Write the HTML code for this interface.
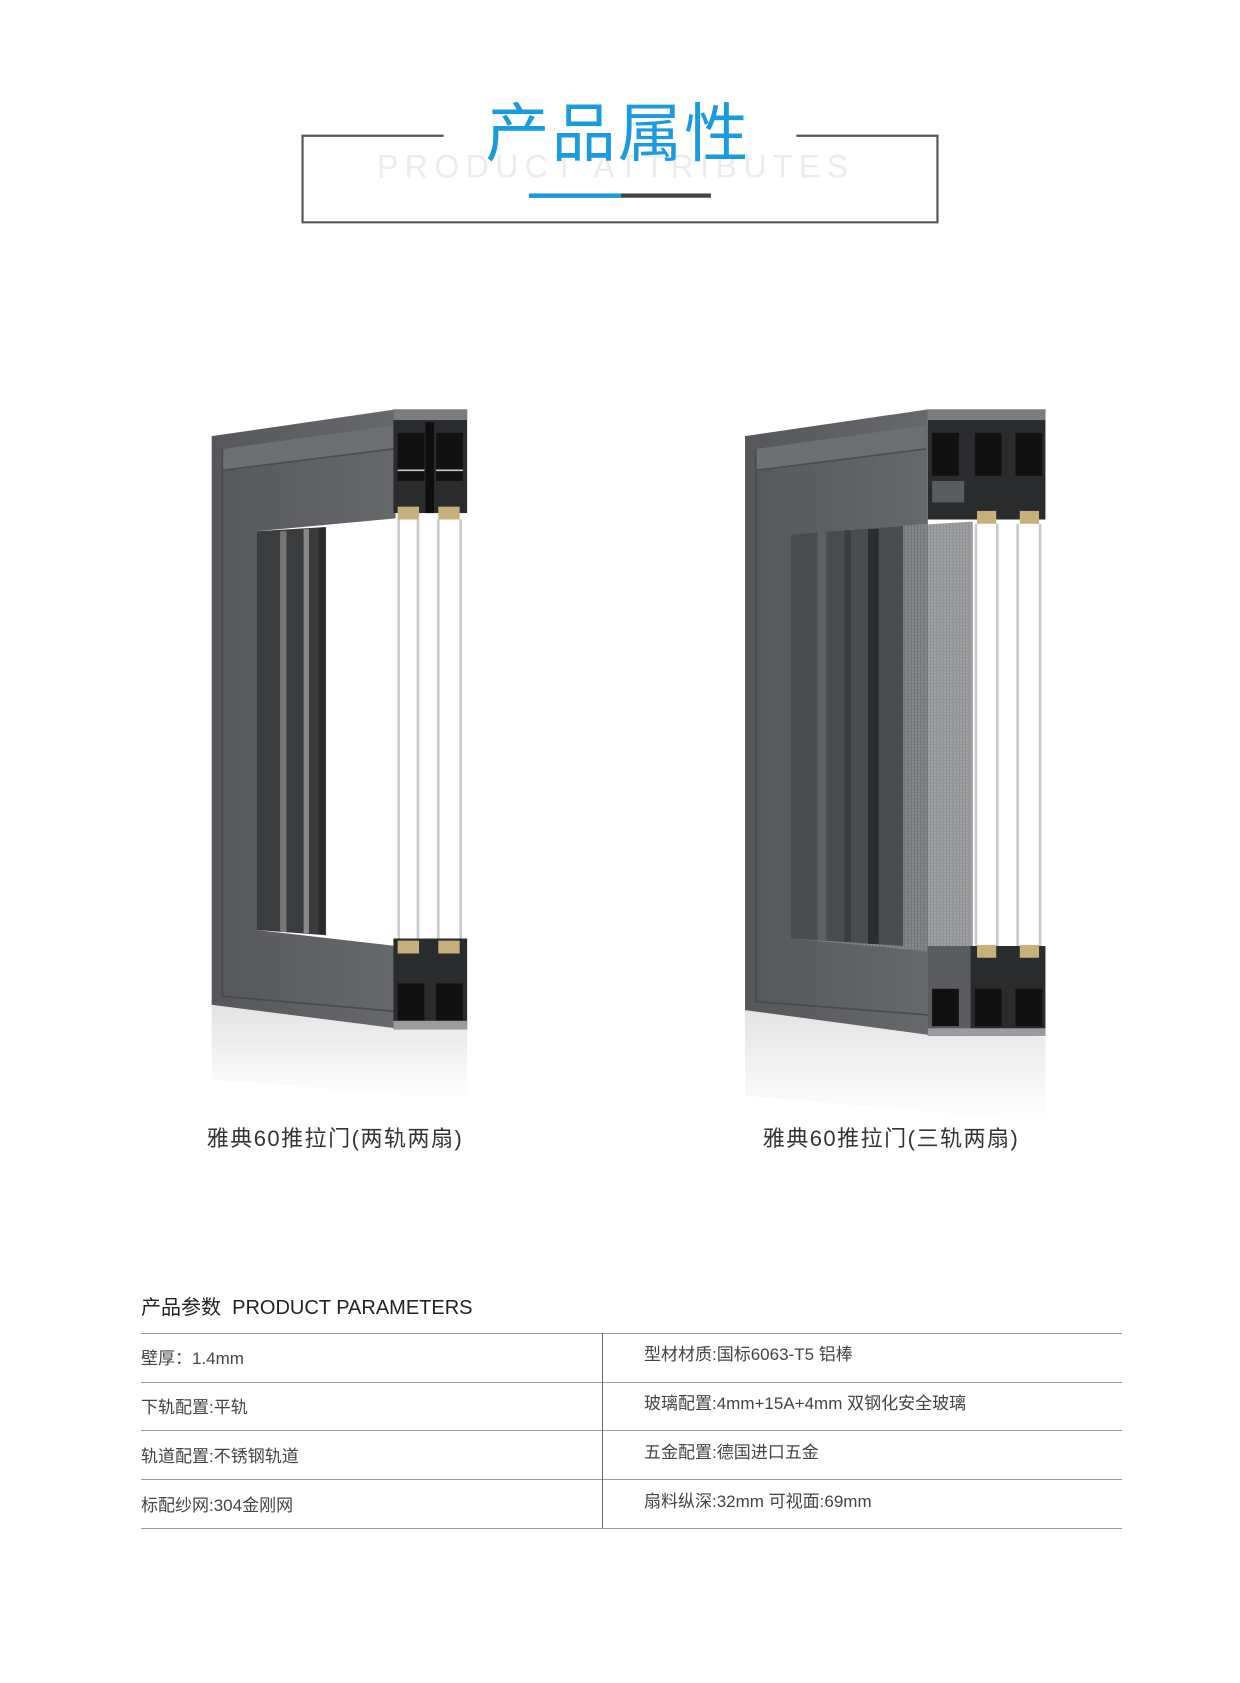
<!DOCTYPE html>
<html><head><meta charset="utf-8"><style>
html,body{margin:0;padding:0;background:#fff;}
body{width:1240px;height:1683px;position:relative;overflow:hidden;font-family:"Liberation Sans","Noto Sans CJK SC",sans-serif;}
.abs{position:absolute;}
.t{font-size:17px;color:#444;line-height:20px;position:absolute;}
</style></head><body>
<svg class="abs" style="left:0;top:0" width="1240" height="1683" viewBox="0 0 1160 1574.5">
<defs>
<linearGradient id="refl" x1="0" y1="0" x2="0" y2="1"><stop offset="0" stop-color="#d8d8d8"/><stop offset="1" stop-color="#fff"/></linearGradient>
<linearGradient id="face" x1="0" y1="0" x2="1" y2="0"><stop offset="0" stop-color="#55575a"/><stop offset="1" stop-color="#66686b"/></linearGradient>
<pattern id="mesh" width="3" height="3" patternUnits="userSpaceOnUse"><rect width="3" height="3" fill="#8a8c8f"/><rect width="1" height="3" fill="#6b6d70"/><rect width="3" height="1" fill="#77797c"/></pattern>
</defs>
<path d="M415 127 H283 V208 H877 V127 H745" fill="none" stroke="#555" stroke-width="2"/>
<text x="576" y="166" text-anchor="middle" font-family="Liberation Sans" font-size="30" letter-spacing="6" fill="#ececec">PRODUCT ATTRIBUTES</text>
<text x="578" y="146" text-anchor="middle" font-family="Noto Sans CJK SC" font-size="60" fill="#1a9be0" letter-spacing="2">产品属性</text>
<rect x="495" y="181" width="170" height="4" fill="#444"/>
<rect x="495" y="181" width="86" height="4" fill="#1a9be0"/>

<g>
<polygon points="198,940 437,962 437,1030 198,1010" fill="url(#refl)" opacity="0.7"/>
<polygon points="198,408 370,383 370,962 198,940" fill="url(#face)"/>
<polygon points="208,420 368,398 368,420 208,440" fill="#6d6f72"/>
<line x1="208" y1="440" x2="368" y2="420" stroke="#4a4c4e" stroke-width="1.5"/>
<line x1="208" y1="420" x2="208" y2="932" stroke="#47494b" stroke-width="1.5"/>
<line x1="208" y1="932" x2="437" y2="952" stroke="#47494b" stroke-width="1.5"/>
<polygon points="240,497 370,485 370,885 240,870" fill="#fff"/>
<polygon points="240,497 305,493 305,875 240,870" fill="#3a3c3e"/>
<rect x="262" y="497" width="6" height="375" fill="#777"/>
<rect x="284" y="495" width="5" height="378" fill="#8a8a8a"/>
<rect x="298" y="494" width="6" height="380" fill="#2a2a2a"/>
<rect x="368" y="383" width="69" height="97" fill="#2a2b2d"/>
<rect x="368" y="383" width="69" height="10" fill="#7a7c7f"/>
<rect x="372" y="405" width="25" height="45" fill="#111"/>
<rect x="408" y="405" width="25" height="45" fill="#111"/>
<rect x="398" y="395" width="8" height="85" fill="#0e0e0e"/>
<path d="M372 440 h25 M408 440 h25" stroke="#ccc" stroke-width="1.5"/>
<rect x="372" y="474" width="20" height="12" fill="#c8b07a"/>
<rect x="410" y="474" width="20" height="12" fill="#c8b07a"/>
<g stroke="#c9cbcd" stroke-width="2.5">
<line x1="373" y1="486" x2="373" y2="880"/><line x1="391" y1="486" x2="391" y2="880"/>
<line x1="410" y1="486" x2="410" y2="880"/><line x1="431" y1="486" x2="431" y2="880"/>
</g>
<rect x="368" y="878" width="69" height="85" fill="#2a2b2d"/>
<rect x="372" y="880" width="20" height="12" fill="#c8b07a"/>
<rect x="410" y="880" width="20" height="12" fill="#c8b07a"/>
<rect x="372" y="920" width="25" height="35" fill="#111"/>
<rect x="408" y="920" width="25" height="35" fill="#111"/>
<rect x="368" y="955" width="69" height="8" fill="#9a9c9f"/>
</g>

<g>
<polygon points="697,945 978,970 978,1050 697,1025" fill="url(#refl)" opacity="0.7"/>
<polygon points="697,408 868,383 868,968 697,945" fill="url(#face)"/>
<polygon points="707,420 866,398 866,420 707,440" fill="#6d6f72"/>
<line x1="707" y1="440" x2="866" y2="420" stroke="#4a4c4e" stroke-width="1.5"/>
<line x1="707" y1="420" x2="707" y2="937" stroke="#47494b" stroke-width="1.5"/>
<line x1="707" y1="937" x2="978" y2="958" stroke="#47494b" stroke-width="1.5"/>
<polygon points="740,500 868,490 868,890 740,878" fill="url(#mesh)"/>
<polygon points="740,500 845,492 845,885 740,878" fill="#4a4c4f"/>
<rect x="765" y="498" width="8" height="382" fill="#5e6063"/>
<rect x="790" y="496" width="6" height="385" fill="#3a3c3e"/>
<rect x="812" y="495" width="10" height="388" fill="#2c2d2f"/>
<polygon points="845,492 910,488 910,888 845,885" fill="url(#mesh)" opacity="0.8"/>
<rect x="868" y="383" width="110" height="103" fill="#2a2b2d"/>
<rect x="868" y="383" width="110" height="10" fill="#7a7c7f"/>
<rect x="872" y="405" width="25" height="40" fill="#111"/>
<rect x="912" y="405" width="25" height="40" fill="#111"/>
<rect x="950" y="405" width="25" height="40" fill="#111"/>
<rect x="872" y="450" width="30" height="20" fill="#5a5c5f"/>
<rect x="914" y="478" width="18" height="12" fill="#c8b07a"/>
<rect x="954" y="478" width="18" height="12" fill="#c8b07a"/>
<g stroke="#c9cbcd" stroke-width="2.5">
<line x1="913" y1="490" x2="913" y2="885"/><line x1="933" y1="490" x2="933" y2="885"/>
<line x1="952" y1="490" x2="952" y2="885"/><line x1="973" y1="490" x2="973" y2="885"/>
</g>
<rect x="868" y="885" width="110" height="84" fill="#2a2b2d"/>
<rect x="868" y="885" width="40" height="84" fill="#5a5c5f"/>
<rect x="914" y="884" width="18" height="12" fill="#c8b07a"/>
<rect x="954" y="884" width="18" height="12" fill="#c8b07a"/>
<rect x="872" y="925" width="25" height="35" fill="#111"/>
<rect x="912" y="925" width="25" height="35" fill="#111"/>
<rect x="950" y="925" width="25" height="35" fill="#111"/>
<rect x="868" y="962" width="110" height="7" fill="#9a9c9f"/>
</g>
</svg>

<div class="abs" style="left:150px;top:1121px;width:370px;text-align:center;font-size:22px;letter-spacing:1.5px;color:#333;">雅典60推拉门(两轨两扇)</div>
<div class="abs" style="left:706px;top:1121px;width:370px;text-align:center;font-size:22px;letter-spacing:1.5px;color:#333;">雅典60推拉门(三轨两扇)</div>

<div class="abs" style="left:141px;top:1291px;font-size:20px;color:#222;">产品参数&nbsp; PRODUCT PARAMETERS</div>
<div class="abs" style="left:141px;top:1333px;width:981px;height:1px;background:#999"></div>
<div class="abs" style="left:141px;top:1382px;width:981px;height:1px;background:#999"></div>
<div class="abs" style="left:141px;top:1430px;width:981px;height:1px;background:#999"></div>
<div class="abs" style="left:141px;top:1479px;width:981px;height:1px;background:#999"></div>
<div class="abs" style="left:141px;top:1528px;width:981px;height:1px;background:#999"></div>
<div class="abs" style="left:602px;top:1333px;width:1px;height:195px;background:#666"></div>
<div class="t" style="left:141px;top:1349px;">壁厚：1.4mm</div>
<div class="t" style="left:141px;top:1398px;">下轨配置:平轨</div>
<div class="t" style="left:141px;top:1447px;">轨道配置:不锈钢轨道</div>
<div class="t" style="left:141px;top:1496px;">标配纱网:304金刚网</div>
<div class="t" style="left:644px;top:1345px;">型材材质:国标6063-T5 铝棒</div>
<div class="t" style="left:644px;top:1394px;">玻璃配置:4mm+15A+4mm 双钢化安全玻璃</div>
<div class="t" style="left:644px;top:1443px;">五金配置:德国进口五金</div>
<div class="t" style="left:644px;top:1492px;">扇料纵深:32mm 可视面:69mm</div>
</body></html>
